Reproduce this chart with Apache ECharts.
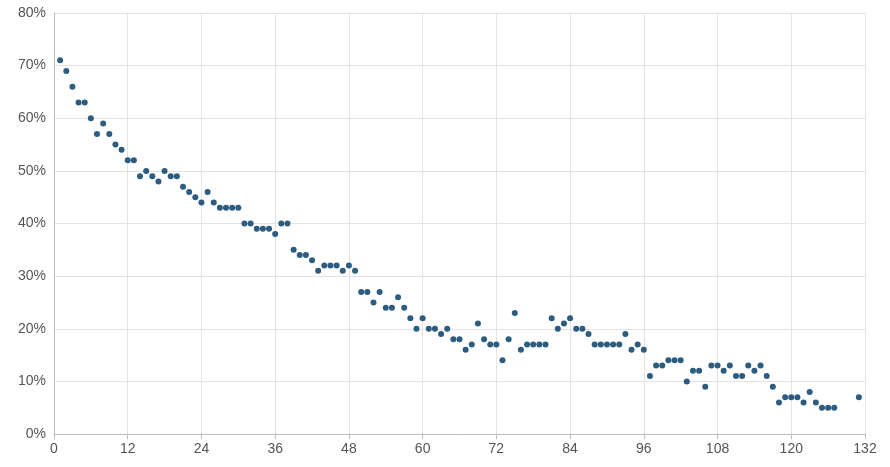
<!DOCTYPE html>
<html><head><meta charset="utf-8">
<script src="https://cdn.jsdelivr.net/npm/echarts@6/dist/echarts.min.js"></script>
<style>html,body{margin:0;padding:0;background:#fff}#c{width:890px;height:467px}</style>
</head><body><div id="c"></div>
<script>
const xValues = [1,2,3,4,5,6,7,8,9,10,11,12,13,14,15,16,17,18,19,20,21,22,23,24,25,26,27,28,29,30,31,32,33,34,35,36,37,38,39,40,41,42,43,44,45,46,47,48,49,50,51,52,53,54,55,56,57,58,59,60,61,62,63,64,65,66,67,68,69,70,71,72,73,74,75,76,77,78,79,80,81,82,83,84,85,86,87,88,89,90,91,92,93,94,95,96,97,98,99,100,101,102,103,104,105,106,107,108,109,110,111,112,113,114,115,116,117,118,119,120,121,122,123,124,125,126,127,131];
const yValues = [71,69,66,63,63,60,57,59,57,55,54,52,52,49,50,49,48,50,49,49,47,46,45,44,46,44,43,43,43,43,40,40,39,39,39,38,40,40,35,34,34,33,31,32,32,32,31,32,31,27,27,25,27,24,24,26,24,22,20,22,20,20,19,20,18,18,16,17,21,18,17,17,14,18,23,16,17,17,17,17,22,20,21,22,20,20,19,17,17,17,17,17,19,16,17,16,11,13,13,14,14,14,10,12,12,9,13,13,12,13,11,11,13,12,13,11,9,6,7,7,7,6,8,6,5,5,5,7];
const data = xValues.map((x,i)=>[x,yValues[i]]);
const chart = echarts.init(document.getElementById('c'));
const lab = {color:'#555',fontSize:14,fontFamily:'Liberation Sans, Arial, sans-serif'};
chart.setOption({
  animation:false,
  grid:{left:54,right:25,top:13,bottom:33},
  xAxis:{type:'value',min:0,max:132,interval:12,
    axisLine:{lineStyle:{color:'#bbb'}},axisTick:{show:true,lineStyle:{color:'#bbb'}},
    axisLabel:lab,splitLine:{show:true,lineStyle:{color:'#e3e3e3'}}},
  yAxis:{type:'value',min:0,max:80,interval:10,
    axisLine:{show:true,lineStyle:{color:'#bbb'}},axisTick:{show:false},
    axisLabel:Object.assign({formatter:'{value}%'},lab),splitLine:{lineStyle:{color:'#e3e3e3'}}},
  series:[{type:'scatter',data:data,symbolSize:6,itemStyle:{color:'#2c5c80',opacity:1}}]
});
</script></body></html>
